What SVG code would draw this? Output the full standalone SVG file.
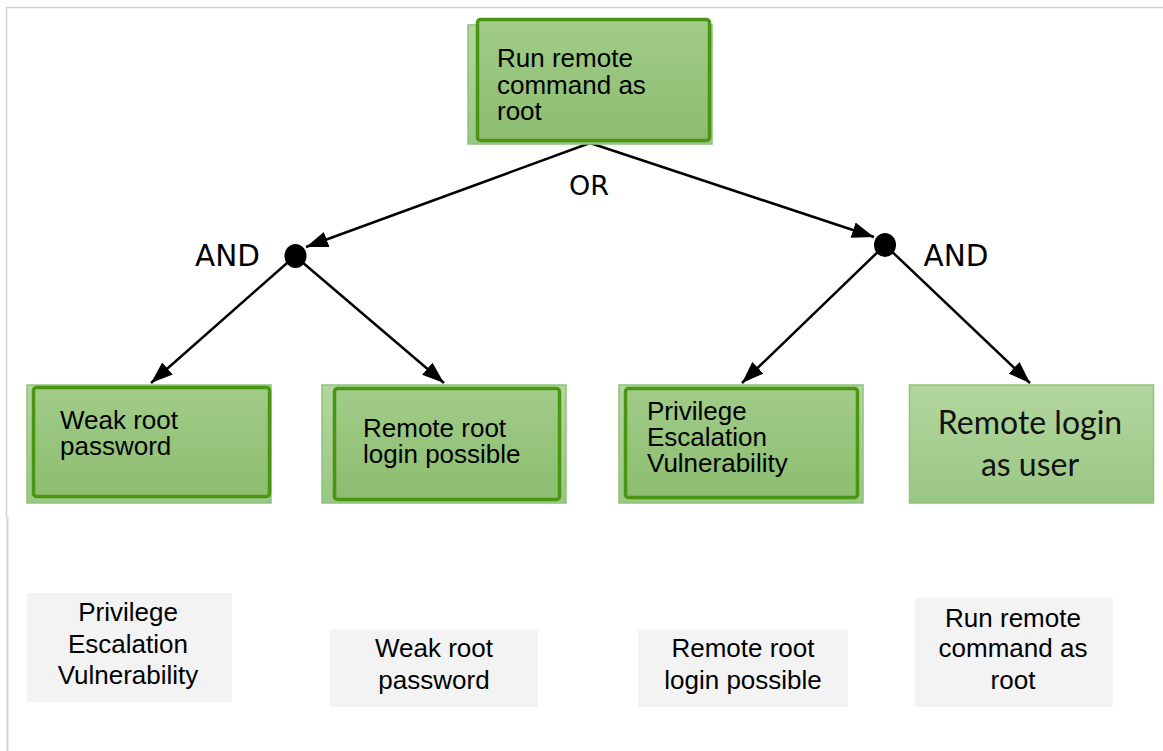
<svg xmlns="http://www.w3.org/2000/svg" width="1163" height="751" viewBox="0 0 1163 751">
<style>
.back{fill:url(#gBack);stroke:#8dc27a;stroke-width:1.5}
.front{fill:url(#gFront);stroke:#4a9511;stroke-width:3.5}
.t{font-family:"Liberation Sans",Arial,sans-serif;font-size:26px;fill:#000}
.tc{font-family:"Liberation Sans",Arial,sans-serif;font-size:26px;fill:#000;text-anchor:middle}
.cal{font-family:Lato,"Open Sans",sans-serif;font-size:32px;fill:#111;text-anchor:middle}
.lbl{font-family:"DejaVu Sans",Verdana,sans-serif;fill:#000}
.gray{fill:#f3f3f3}
.edge{stroke:#000;stroke-width:2.5;fill:none;marker-end:url(#arr)}
</style>
<defs>
<linearGradient id="gFront" x1="0" y1="0" x2="0" y2="1">
<stop offset="0" stop-color="#a1cc89"/>
<stop offset="1" stop-color="#8cbd6f"/>
</linearGradient>
<linearGradient id="gBack" x1="0" y1="0" x2="0" y2="1">
<stop offset="0" stop-color="#b3d79f"/>
<stop offset="1" stop-color="#9ac784"/>
</linearGradient>
<marker id="arr" viewBox="0 0 22 16" refX="22" refY="8" markerWidth="22" markerHeight="16" orient="auto" markerUnits="userSpaceOnUse">
<path d="M0,0 L22,8 L0,16 z" fill="#000"/>
</marker>
</defs>
<rect x="0" y="0" width="1163" height="751" fill="#fff"/>
<g id="frame" stroke="#d2d2d2" fill="none">
<line x1="6" y1="7.5" x2="1163" y2="7.5" stroke-width="1.5"/>
<line x1="6.5" y1="7" x2="6.5" y2="517" stroke-width="1.5"/>
<line x1="7.5" y1="517" x2="7.5" y2="751" stroke-width="2"/>
</g>
<g id="connectors">
<line class="edge" x1="590" y1="143" x2="306" y2="247"/>
<line class="edge" x1="590" y1="143" x2="874" y2="237"/>
<line class="edge" x1="295" y1="256" x2="151" y2="383"/>
<line class="edge" x1="295" y1="256" x2="444" y2="383"/>
<line class="edge" x1="885" y1="245" x2="742" y2="383"/>
<line class="edge" x1="885" y1="245" x2="1030" y2="383"/>
<ellipse cx="295.5" cy="256" rx="11" ry="12" fill="#000"/>
<ellipse cx="885" cy="245" rx="11" ry="12" fill="#000"/>
<text class="lbl" x="589" y="195" font-size="27" text-anchor="middle">OR</text>
<text class="lbl" x="227.5" y="266" font-size="29.5" text-anchor="middle">AND</text>
<text class="lbl" x="956" y="266" font-size="29.5" text-anchor="middle">AND</text>
</g>
<g id="root">
<rect class="back" x="468" y="25" width="244" height="119"/>
<rect class="front" x="477.5" y="19.5" width="232" height="121" rx="3"/>
<text class="t" x="497" y="67">Run remote</text>
<text class="t" x="497" y="94">command as</text>
<text class="t" x="497" y="120">root</text>
</g>
<g id="weak">
<rect class="back" x="27" y="385" width="244" height="118"/>
<rect class="front" x="33.5" y="387.5" width="236" height="109" rx="3"/>
<text class="t" x="60" y="429">Weak root</text>
<text class="t" x="60" y="455">password</text>
</g>
<g id="remoteroot">
<rect class="back" x="322" y="385" width="244" height="118"/>
<rect class="front" x="334.5" y="388.5" width="225" height="111" rx="3"/>
<text class="t" x="363" y="437">Remote root</text>
<text class="t" x="363" y="463">login possible</text>
</g>
<g id="privesc">
<rect class="back" x="619" y="385" width="244" height="118"/>
<rect class="front" x="625.5" y="388.5" width="232" height="109" rx="3"/>
<text class="t" x="647" y="419.5">Privilege</text>
<text class="t" x="647" y="446">Escalation</text>
<text class="t" x="647" y="472">Vulnerability</text>
</g>
<g id="remoteuser">
<rect class="back" x="909.5" y="385" width="244" height="118"/>
<text class="cal" x="1030" y="434">Remote login</text>
<text class="cal" x="1030" y="476">as user</text>
</g>
<g id="legend1">
<rect class="gray" x="27" y="593" width="205" height="109"/>
<text class="tc" x="128" y="621">Privilege</text>
<text class="tc" x="128" y="653">Escalation</text>
<text class="tc" x="128" y="684">Vulnerability</text>
</g>
<g id="legend2">
<rect class="gray" x="330" y="630" width="208" height="77"/>
<text class="tc" x="434" y="657">Weak root</text>
<text class="tc" x="434" y="689">password</text>
</g>
<g id="legend3">
<rect class="gray" x="638" y="630" width="210" height="77"/>
<text class="tc" x="743" y="657">Remote root</text>
<text class="tc" x="743" y="689">login possible</text>
</g>
<g id="legend4">
<rect class="gray" x="915" y="598" width="198" height="109"/>
<text class="tc" x="1013" y="627">Run remote</text>
<text class="tc" x="1013" y="657">command as</text>
<text class="tc" x="1013" y="689">root</text>
</g>
</svg>
